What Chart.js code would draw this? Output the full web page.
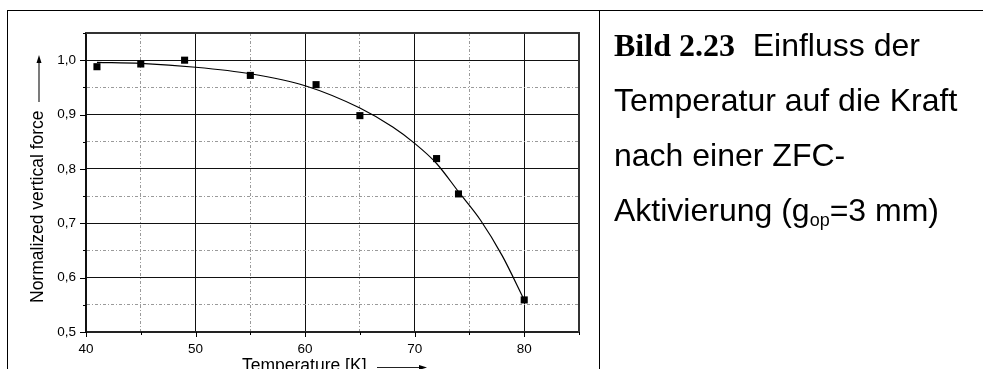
<!DOCTYPE html>
<html lang="de">
<head>
<meta charset="utf-8">
<title>Bild 2.23</title>
<script src="https://cdn.jsdelivr.net/npm/chart.js@4.4.1/dist/chart.umd.min.js"></script>
<style>
  html, body { margin: 0; padding: 0; background: #fff; overflow: hidden; }
  #page { position: relative; width: 983px; height: 369px; }
  #plot { position: absolute; left: 0; top: 0; }
  .rule { position: absolute; background: #000; }
  #caption {
    position: absolute; left: 614px; top: 18px;
    font-family: "Liberation Sans", Arial, sans-serif; font-size: 32px;
    line-height: 55px; color: #000; white-space: nowrap;
  }
  #caption b { font-family: "Liberation Serif", "Times New Roman", serif; font-weight: bold; }
  #caption sub { font-size: 18px; line-height: 0; vertical-align: -5px; }
</style>
</head>
<body>
<div id="page">
  <canvas id="plot" width="983" height="369"></canvas>
  <div class="rule" style="left:7px;top:10px;width:976px;height:1px"></div>
  <div class="rule" style="left:7px;top:10px;width:1px;height:359px"></div>
  <div class="rule" style="left:599px;top:10px;width:1px;height:359px"></div>
  <div id="caption">
    <div><b>Bild 2.23</b>&nbsp; Einfluss der</div>
    <div>Temperatur auf die Kraft</div>
    <div>nach einer ZFC-</div>
    <div>Aktivierung (g<sub>op</sub>=3 mm)</div>
  </div>
</div>
<script>
// Measured normalized vertical force vs. temperature
const tempMeasured  = [41, 45, 49, 55, 61, 65, 72, 74, 80];
const forceMeasured = [0.988, 0.993, 1.000, 0.972, 0.955, 0.898, 0.819, 0.754, 0.559];

// Fitted trend curve through the measurements
const tempFit  = [41, 45, 50, 55, 60, 65, 68, 70, 72, 74, 76, 78, 80];
const forceFit = [0.996, 0.994, 0.987, 0.975, 0.953, 0.912, 0.877, 0.847, 0.810, 0.758, 0.706, 0.640, 0.559];

// Axis ranges and labels
const xRange = [40, 85];
const yRange = [0.5, 1.05];
const xTitle = 'Temperature [K]';
const yTitle = 'Normalized vertical force';

const FONT = '"Liberation Sans", Arial, sans-serif';
const isMajorX = v => Math.round(v) % 10 === 0;
const isMajorY = v => Math.round(v * 20) % 2 === 0;

const minorDash = [3, 2, 1, 2];

// Frame, tick marks, axis titles and arrows
const decorations = {
  id: 'decorations',
  afterDraw(chart) {
    const { ctx, chartArea: a, scales: { x, y } } = chart;
    ctx.save();

    // top and right frame
    ctx.strokeStyle = '#333';
    ctx.lineWidth = 2;
    ctx.beginPath();
    ctx.moveTo(a.left - 1, a.top);
    ctx.lineTo(a.right, a.top);
    ctx.lineTo(a.right, a.bottom + 1);
    ctx.stroke();

    // outward tick marks
    ctx.strokeStyle = '#000';
    ctx.lineWidth = 1;
    ctx.beginPath();
    x.ticks.forEach(t => {
      const px = Math.round(x.getPixelForValue(t.value)) + 0.5;
      const len = isMajorX(t.value) ? 5 : 3;
      ctx.moveTo(px, a.bottom);
      ctx.lineTo(px, a.bottom + len);
    });
    y.ticks.forEach(t => {
      const py = Math.round(y.getPixelForValue(t.value)) + 0.5;
      const len = isMajorY(t.value) ? 6 : 3;
      ctx.moveTo(a.left, py);
      ctx.lineTo(a.left - len, py);
    });
    ctx.stroke();

    // axis titles
    ctx.fillStyle = '#000';
    ctx.font = '17.5px ' + FONT;
    ctx.textBaseline = 'alphabetic';
    ctx.textAlign = 'left';
    ctx.fillText(xTitle, a.left + 156, a.bottom + 39);

    ctx.save();
    ctx.translate(a.left - 43, a.bottom - 29);
    ctx.rotate(-Math.PI / 2);
    ctx.fillText(yTitle, 0, 0);
    ctx.restore();

    // arrows next to the titles
    ctx.strokeStyle = '#222';
    ctx.fillStyle = '#000';
    ctx.lineWidth = 1.2;
    const ax0 = a.left + 291, ax1 = a.left + 341, ay = a.bottom + 35.5;
    ctx.beginPath();
    ctx.moveTo(ax0, ay); ctx.lineTo(ax1 - 6, ay); ctx.stroke();
    ctx.beginPath();
    ctx.moveTo(ax1, ay); ctx.lineTo(ax1 - 8, ay - 2.5); ctx.lineTo(ax1 - 8, ay + 2.5); ctx.closePath(); ctx.fill();

    const vx = a.left - 47, vy0 = a.top + 69, vy1 = a.top + 22;
    ctx.beginPath();
    ctx.moveTo(vx, vy0); ctx.lineTo(vx, vy1 + 6); ctx.stroke();
    ctx.beginPath();
    ctx.moveTo(vx, vy1); ctx.lineTo(vx - 2.5, vy1 + 8); ctx.lineTo(vx + 2.5, vy1 + 8); ctx.closePath(); ctx.fill();

    ctx.restore();
  }
};

const measuredPoints = tempMeasured.map((t, i) => ({ x: t, y: forceMeasured[i] }));
const fitPoints = tempFit.map((t, i) => ({ x: t, y: forceFit[i] }));

new Chart(document.getElementById('plot'), {
  type: 'scatter',
  data: {
    datasets: [
      {
        label: 'Messwerte',
        data: measuredPoints,
        pointStyle: 'rect',
        pointRadius: 5,
        backgroundColor: '#000',
        borderColor: '#000',
        borderWidth: 0,
        showLine: false,
        order: 1
      },
      {
        label: 'Fit',
        data: fitPoints,
        showLine: true,
        borderColor: '#000',
        borderWidth: 1.2,
        pointRadius: 0,
        cubicInterpolationMode: 'monotone',
        fill: false,
        order: 2
      }
    ]
  },
  options: {
    responsive: false,
    animation: false,
    devicePixelRatio: 1,
    layout: { padding: { left: 0, top: 33, right: 404, bottom: 0 } },
    plugins: { legend: { display: false }, tooltip: { enabled: false } },
    scales: {
      x: {
        type: 'linear',
        min: xRange[0],
        max: xRange[1],
        afterFit: s => { s.height = 37; },
        ticks: {
          stepSize: 5,
          autoSkip: false,
          maxRotation: 0,
          padding: 9,
          color: '#000',
          font: { family: FONT, size: 13.5 },
          callback: v => (isMajorX(v) ? String(v) : '')
        },
        grid: {
          drawTicks: false,
          lineWidth: 1,
          color: c => (c.tick && isMajorX(c.tick.value) ? '#111' : '#9a9a9a')
        },
        border: {
          display: true,
          color: '#222',
          width: 2,
          dash: c => (c.tick && !isMajorX(c.tick.value) ? minorDash : [])
        }
      },
      y: {
        type: 'linear',
        min: yRange[0],
        max: yRange[1],
        afterFit: s => { s.width = 86; },
        ticks: {
          stepSize: 0.05,
          autoSkip: false,
          padding: 10,
          color: '#000',
          font: { family: FONT, size: 13.5 },
          callback: v => (isMajorY(v) ? v.toFixed(1).replace('.', ',') : '')
        },
        grid: {
          drawTicks: false,
          lineWidth: 1,
          color: c => (c.tick && isMajorY(c.tick.value) ? '#111' : '#9a9a9a')
        },
        border: {
          display: true,
          color: '#111',
          width: 2,
          dash: c => (c.tick && !isMajorY(c.tick.value) ? minorDash : [])
        }
      }
    }
  },
  plugins: [decorations]
});
</script>
</body>
</html>
